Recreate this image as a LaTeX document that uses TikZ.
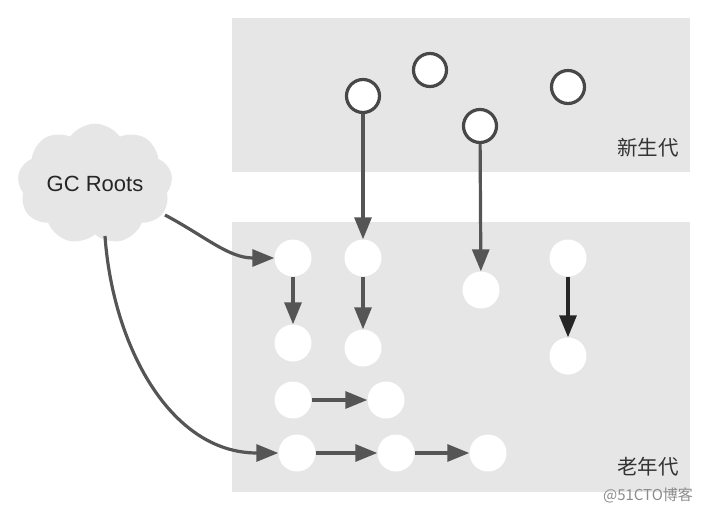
\documentclass[tikz,border=0pt]{standalone}
\usepackage{fontspec}
\setsansfont{Liberation Sans}
\newfontfamily\cjk{Noto Sans CJK SC}
\usetikzlibrary{arrows.meta,shapes.symbols}
\definecolor{zone}{HTML}{E6E6E6}
\definecolor{link}{HTML}{555555}
\tikzset{
    young/.style={circle,draw=link!85!black,line width=3.2pt,fill=white,minimum size=33pt,inner sep=0pt},
    old/.style={circle,fill=white,minimum size=37pt,inner sep=0pt},
    ref/.style={draw=link,line width=3.2pt,-{Triangle[length=22pt,width=17pt]}},
}
\begin{document}
\begin{tikzpicture}[x=1pt,y=-1pt]
    \useasboundingbox (0,0) rectangle (713,512);
    % generations
    \fill[zone] (232,18) rectangle (690,172);
    \fill[zone] (232,222) rectangle (690,492);
    \node[font=\cjk\fontsize{20.5}{24}\selectfont,text=black!80] (yg) at (648,148) {新生代};
    \node[font=\cjk\fontsize{20.5}{24}\selectfont,text=black!80] (og) at (648,467) {老年代};
    \node[font=\cjk\fontsize{15}{17}\selectfont,text=black!45] (wm) at (648,495) {@51CTO博客};
    % roots
    \node[cloud,cloud puffs=9,cloud puff arc=110,aspect=1.45,fill=zone,minimum width=150pt,minimum height=106pt,
          font=\sffamily\fontsize{22}{26}\selectfont,text=black!85] (gc) at (95,184) {GC Roots};
    % young objects
    \node[young] (y1) at (363,96) {};
    \node[young] (y2) at (430,70) {};
    \node[young] (y3) at (480,126) {};
    \node[young] (y4) at (568,87) {};
    % old objects
    \node[old] (o1) at (293,258) {};
    \node[old] (o2) at (363,258) {};
    \node[old] (o3) at (481,290) {};
    \node[old] (o4) at (568,258) {};
    \node[old] (o5) at (293,343) {};
    \node[old] (o6) at (363,348) {};
    \node[old] (o7) at (568,356) {};
    \node[old] (o8) at (293,400) {};
    \node[old] (o9) at (386,400) {};
    \node[old] (o10) at (297,453) {};
    \node[old] (o11) at (396,453) {};
    \node[old] (o12) at (488,453) {};
    % references
    \coordinate (c1) at (165,215);
    \coordinate (c2) at (105,236);
    \draw[ref] (c1) to[out=-28,in=180] (o1);
    \draw[ref] (c2) to[out=-86,in=180] (o10);
    \draw[ref] (y1) -- (o2);
    \draw[ref] (y3) -- (o3);
    \draw[ref] (o1) -- (o5);
    \draw[ref] (o2) -- (o6);
    \draw[ref,draw=black!85] (o4) -- (o7);
    \draw[ref] (o8) -- (o9);
    \draw[ref] (o10) -- (o11);
    \draw[ref] (o11) -- (o12);
\end{tikzpicture}
\end{document}
